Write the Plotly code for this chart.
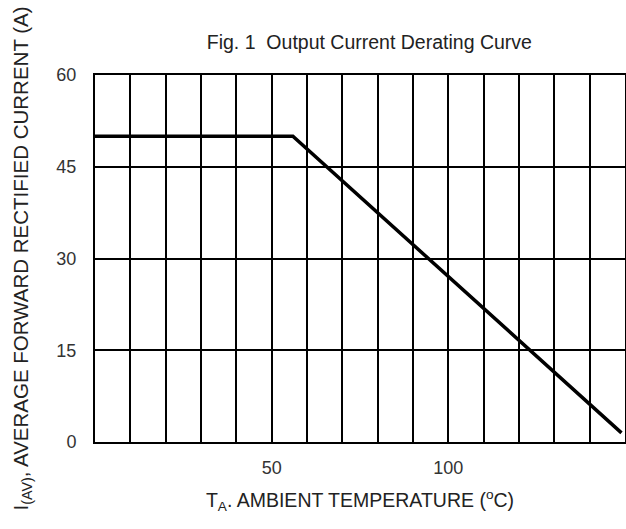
import plotly.graph_objects as go

# Data
temp_c = [0, 56, 149]
current_a = [50, 50, 1.5]
x_tick_vals = [50, 100]
x_tick_text = ["50", "100"]
y_tick_vals = [0, 15, 30, 45, 60]
y_tick_text = ["0", "15", "30", "45", "60"]

fig = go.Figure()
fig.add_trace(go.Scatter(
    x=temp_c, y=current_a, mode="lines",
    line=dict(color="black", width=3.5),
    hoverinfo="skip", showlegend=False,
))

font_family = "Liberation Sans, Arial, sans-serif"

fig.update_layout(
    width=626, height=529,
    margin=dict(l=95, r=1, t=75, b=87, autoexpand=False),
    paper_bgcolor="white", plot_bgcolor="white",
    font=dict(family=font_family, size=18, color="#333"),
    title=dict(
        text="Fig. 1  Output Current Derating Curve",
        x=0.59, xanchor="center", y=0.92, yanchor="middle",
        font=dict(size=19.5, color="#222"),
    ),
    xaxis=dict(
        range=[0, 150], tickvals=x_tick_vals, ticktext=x_tick_text,
        showgrid=True, gridcolor="black", gridwidth=2,
        minor=dict(dtick=10, tick0=0, showgrid=True, gridcolor="black", gridwidth=2),
        showline=True, linecolor="black", linewidth=2, mirror=True,
        ticks="", ticklabelstandoff=8, zeroline=False, automargin=False,
        title=dict(text="T<sub>A</sub>. AMBIENT TEMPERATURE (<sup>o</sup>C)",
                   standoff=17, font=dict(size=19.5, color="#222")),
    ),
    yaxis=dict(
        range=[0, 60], tickvals=y_tick_vals, ticktext=y_tick_text,
        showgrid=True, gridcolor="black", gridwidth=2,
        showline=True, linecolor="black", linewidth=2, mirror=True,
        ticks="", ticklabelstandoff=13, zeroline=False, automargin=False,
        title=dict(text="I<sub>(AV)</sub>, AVERAGE FORWARD RECTIFIED CURRENT (A)",
                   standoff=22, font=dict(size=20.5, color="#222")),
    ),
)

fig.write_html("out.html", config={"displayModeBar": False},
               post_script="document.body.style.margin='0';")
